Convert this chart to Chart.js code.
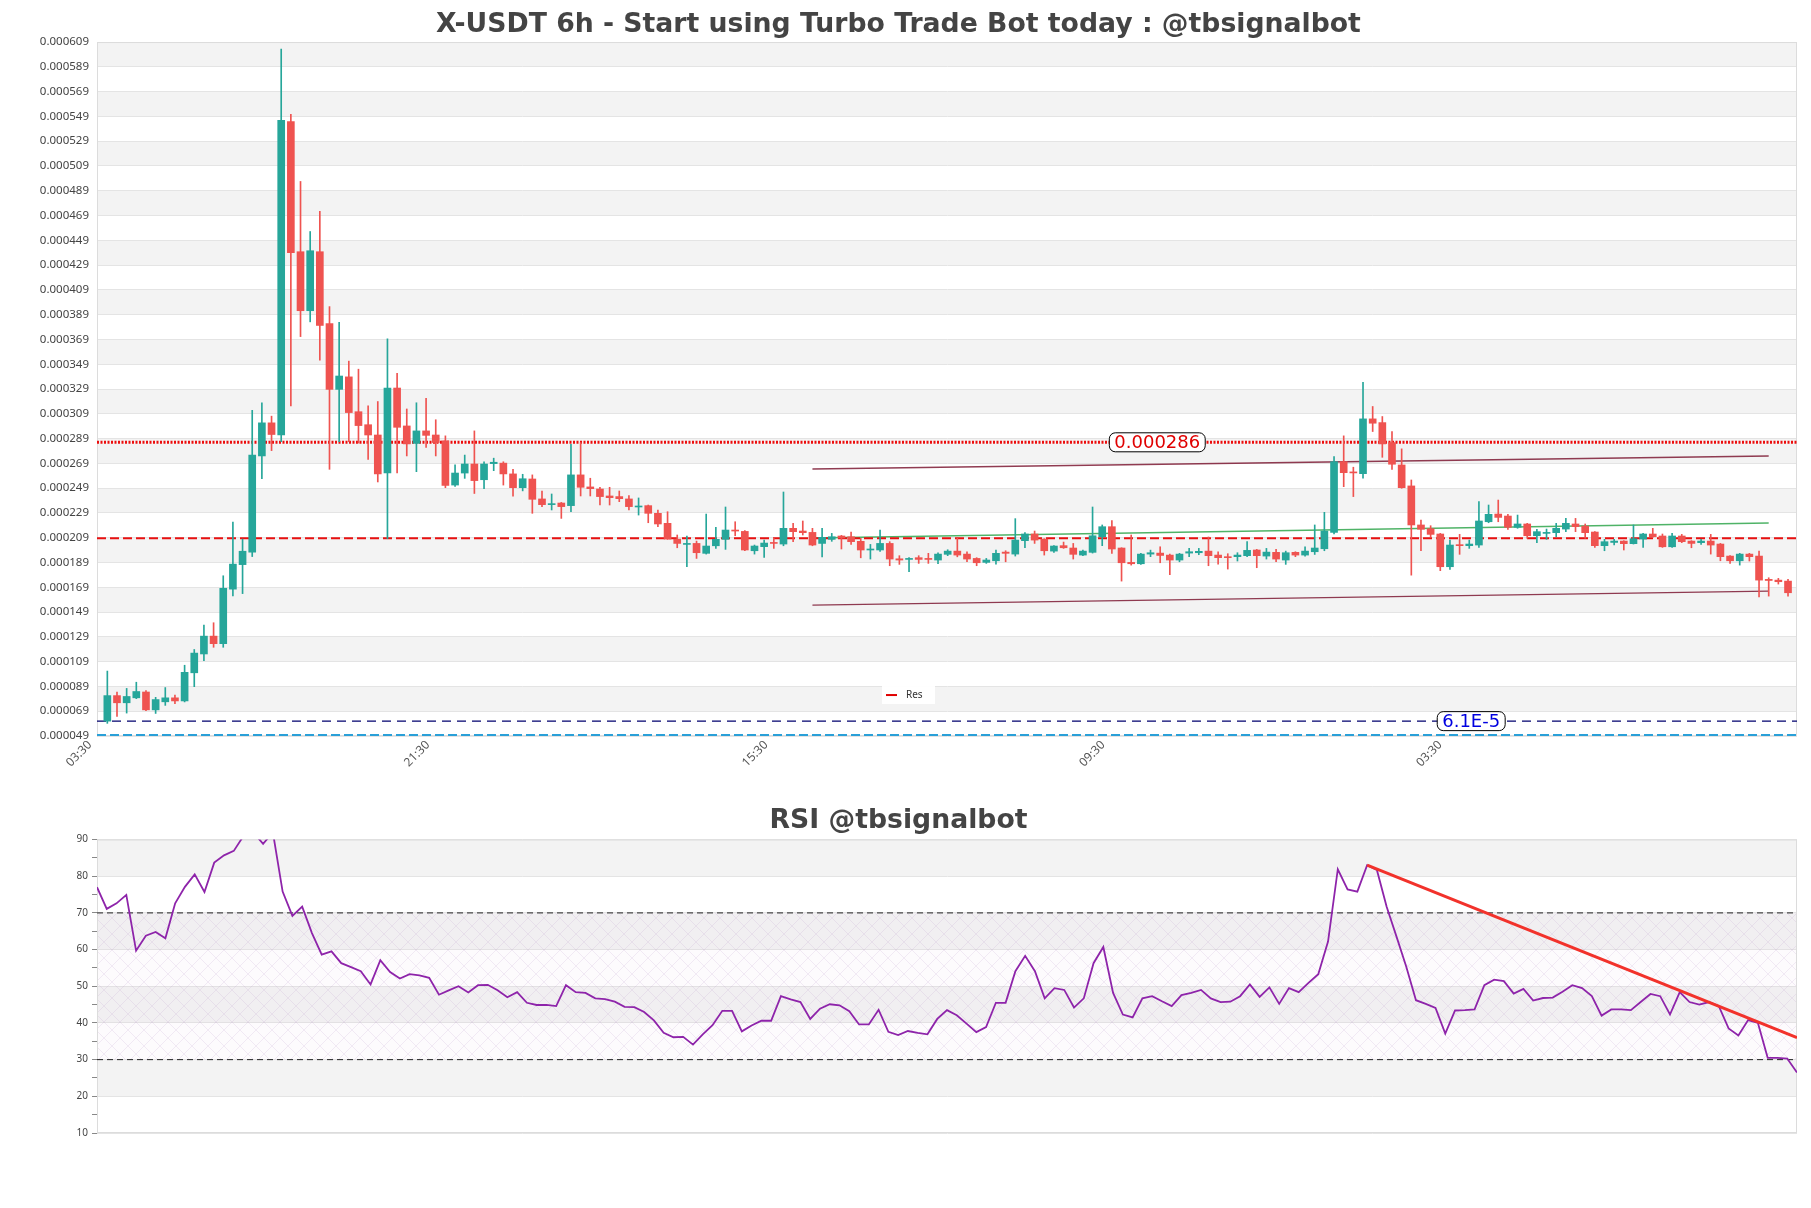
<!DOCTYPE html>
<html>
<head>
<meta charset="utf-8">
<title>X-USDT 6h</title>
<script src="https://cdn.jsdelivr.net/npm/chart.js@4.4.1/dist/chart.umd.min.js"></script>
<style>
  html, body { margin: 0; padding: 0; background: #fff; }
  #main { position: absolute; left: 0; top: 0; width: 1811px; height: 790px; }
  #rsi { position: absolute; left: 0; top: 790px; width: 1811px; height: 418px; }
</style>
</head>
<body>
<div id="main"><canvas id="priceChart"></canvas></div>
<div id="rsi"><canvas id="rsiChart"></canvas></div>
<script>
// candles
const openP = [61.0e-6,81.6e-6,75.8e-6,79.8e-6,84.5e-6,70.1e-6,76.6e-6,79.8e-6,77.3e-6,100.0e-6,
  115.2e-6,129.6e-6,123.5e-6,167.5e-6,187.3e-6,197.4e-6,275.0e-6,301.7e-6,292.0e-6,544.8e-6,
  439.8e-6,392.2e-6,439.8e-6,381.8e-6,328.7e-6,338.8e-6,310.7e-6,300.2e-6,291.9e-6,261.2e-6,
  329.8e-6,299.2e-6,285.1e-6,295.2e-6,291.9e-6,287.2e-6,251.5e-6,261.2e-6,268.5e-6,255.8e-6,
  268.8e-6,269.2e-6,260.5e-6,249.4e-6,256.4e-6,240.3e-6,235.7e-6,237.0e-6,234.9e-6,259.7e-6,
  250.0e-6,248.3e-6,242.7e-6,242.2e-6,240.3e-6,233.8e-6,234.9e-6,228.7e-6,220.6e-6,207.9e-6,
  203.6e-6,204.4e-6,196.4e-6,202.5e-6,207.7e-6,215.2e-6,214.1e-6,198.5e-6,201.8e-6,205.0e-6,
  203.9e-6,216.6e-6,214.4e-6,213.3e-6,204.4e-6,207.7e-6,210.4e-6,209.8e-6,206.1e-6,199.1e-6,
  199.1e-6,204.4e-6,192.0e-6,191.5e-6,192.9e-6,192.3e-6,191.0e-6,195.6e-6,198.2e-6,195.8e-6,
  192.3e-6,189.1e-6,190.4e-6,197.4e-6,195.8e-6,206.6e-6,212.0e-6,207.9e-6,198.2e-6,202.6e-6,
  200.7e-6,195.0e-6,197.2e-6,209.8e-6,217.9e-6,200.7e-6,189.1e-6,188.0e-6,195.8e-6,196.6e-6,
  195.0e-6,191.0e-6,196.6e-6,196.9e-6,198.2e-6,195.0e-6,193.4e-6,193.7e-6,194.5e-6,199.1e-6,
  194.2e-6,197.2e-6,191.0e-6,197.2e-6,195.0e-6,197.7e-6,200.1e-6,213.3e-6,270.4e-6,262.1e-6,
  260.7e-6,304.9e-6,301.9e-6,285.8e-6,267.7e-6,250.8e-6,219.3e-6,216.3e-6,212.0e-6,185.6e-6,
  203.1e-6,202.6e-6,203.1e-6,221.9e-6,228.1e-6,226.5e-6,217.4e-6,220.1e-6,210.6e-6,212.5e-6,
  213.1e-6,216.0e-6,220.1e-6,218.4e-6,213.6e-6,202.6e-6,205.2e-6,206.3e-6,204.2e-6,207.9e-6,
  212.0e-6,210.4e-6,201.7e-6,210.4e-6,206.3e-6,205.0e-6,206.3e-6,203.9e-6,194.2e-6,190.4e-6,
  195.8e-6,194.2e-6,175.4e-6,174.8e-6,174.0e-6];
const highP = [101.4e-6,84.5e-6,87.4e-6,92.4e-6,85.6e-6,80.2e-6,88.1e-6,82.0e-6,106.1e-6,118.8e-6,
  138.6e-6,140.4e-6,178.3e-6,221.6e-6,207.9e-6,311.8e-6,317.9e-6,307.1e-6,603.3e-6,550.6e-6,
  496.5e-6,456.1e-6,472.3e-6,395.5e-6,382.8e-6,351.5e-6,345.0e-6,315.4e-6,318.9e-6,369.5e-6,
  341.7e-6,312.9e-6,317.9e-6,321.5e-6,304.2e-6,291.2e-6,267.8e-6,275.7e-6,295.2e-6,270.3e-6,
  273.2e-6,270.3e-6,264.2e-6,260.2e-6,259.7e-6,246.7e-6,244.3e-6,237.5e-6,284.4e-6,285.8e-6,
  257.0e-6,249.7e-6,249.7e-6,246.7e-6,243.0e-6,241.1e-6,235.4e-6,231.4e-6,230.0e-6,211.2e-6,
  210.4e-6,206.3e-6,228.1e-6,217.4e-6,233.8e-6,221.9e-6,214.7e-6,203.1e-6,207.1e-6,208.7e-6,
  245.9e-6,220.6e-6,222.5e-6,216.6e-6,216.6e-6,212.5e-6,210.9e-6,213.6e-6,208.5e-6,203.6e-6,
  215.2e-6,205.8e-6,194.5e-6,192.9e-6,194.5e-6,196.4e-6,196.9e-6,199.3e-6,208.5e-6,197.7e-6,
  192.9e-6,192.3e-6,199.0e-6,198.5e-6,224.4e-6,213.1e-6,214.4e-6,208.2e-6,202.6e-6,205.5e-6,
  204.4e-6,199.0e-6,233.8e-6,219.3e-6,222.8e-6,200.9e-6,211.2e-6,196.4e-6,199.0e-6,201.7e-6,
  195.8e-6,196.4e-6,200.4e-6,200.4e-6,209.6e-6,197.7e-6,196.1e-6,196.9e-6,205.8e-6,199.6e-6,
  200.4e-6,199.6e-6,198.2e-6,197.7e-6,201.7e-6,219.3e-6,229.5e-6,274.5e-6,291.2e-6,265.9e-6,
  334.3e-6,314.9e-6,306.8e-6,294.7e-6,280.7e-6,255.6e-6,223.3e-6,218.7e-6,212.5e-6,207.1e-6,
  211.7e-6,207.1e-6,238.1e-6,235.4e-6,239.4e-6,227.9e-6,227.3e-6,220.6e-6,215.8e-6,216.0e-6,
  220.6e-6,224.6e-6,224.6e-6,220.1e-6,213.9e-6,207.7e-6,207.7e-6,206.6e-6,219.3e-6,212.5e-6,
  216.6e-6,212.0e-6,212.5e-6,211.7e-6,206.6e-6,207.7e-6,211.7e-6,204.4e-6,194.5e-6,196.4e-6,
  196.4e-6,198.2e-6,176.7e-6,176.2e-6,175.4e-6];
const lowP = [59.2e-6,64.7e-6,67.5e-6,79.1e-6,69.4e-6,67.2e-6,73.7e-6,75.1e-6,76.5e-6,88.8e-6,
  109.7e-6,120.6e-6,120.6e-6,162.1e-6,163.9e-6,193.8e-6,256.6e-6,279.3e-6,286.5e-6,315.4e-6,
  371.3e-6,383.2e-6,352.2e-6,264.2e-6,286.5e-6,286.5e-6,285.4e-6,272.1e-6,254.0e-6,208.2e-6,
  261.2e-6,275.0e-6,262.3e-6,281.8e-6,275.0e-6,249.4e-6,250.4e-6,256.9e-6,244.7e-6,248.6e-6,
  263.1e-6,251.5e-6,242.5e-6,246.8e-6,228.7e-6,234.1e-6,231.4e-6,224.6e-6,230.0e-6,242.7e-6,
  242.7e-6,235.4e-6,235.4e-6,238.1e-6,231.4e-6,227.3e-6,221.1e-6,217.9e-6,207.7e-6,200.9e-6,
  185.6e-6,192.3e-6,195.8e-6,200.4e-6,199.6e-6,210.6e-6,198.5e-6,195.8e-6,193.1e-6,200.4e-6,
  202.5e-6,205.8e-6,211.2e-6,202.5e-6,193.6e-6,206.1e-6,199.9e-6,203.6e-6,192.8e-6,191.8e-6,
  198.0e-6,186.4e-6,187.5e-6,181.6e-6,188.3e-6,188.3e-6,188.0e-6,194.5e-6,193.6e-6,189.6e-6,
  186.4e-6,188.3e-6,187.7e-6,189.6e-6,194.2e-6,200.9e-6,204.4e-6,195.0e-6,197.2e-6,200.4e-6,
  191.8e-6,194.5e-6,196.6e-6,202.6e-6,196.4e-6,174.0e-6,186.9e-6,187.5e-6,193.7e-6,188.8e-6,
  179.1e-6,189.6e-6,193.7e-6,195.3e-6,186.4e-6,187.7e-6,183.7e-6,190.2e-6,193.7e-6,184.8e-6,
  191.8e-6,189.6e-6,187.5e-6,193.7e-6,194.2e-6,195.5e-6,198.5e-6,212.0e-6,250.2e-6,242.2e-6,
  257.0e-6,294.7e-6,273.9e-6,264.2e-6,248.9e-6,178.8e-6,198.5e-6,209.8e-6,182.4e-6,183.4e-6,
  195.6e-6,200.4e-6,201.2e-6,221.1e-6,221.9e-6,215.8e-6,216.6e-6,208.5e-6,205.0e-6,207.7e-6,
  209.8e-6,213.9e-6,213.9e-6,208.5e-6,201.2e-6,198.5e-6,203.1e-6,199.1e-6,203.9e-6,201.2e-6,
  209.3e-6,201.2e-6,201.2e-6,205.0e-6,200.9e-6,203.6e-6,195.8e-6,190.4e-6,188.3e-6,186.9e-6,
  190.2e-6,161.3e-6,161.9e-6,171.6e-6,161.9e-6];
const closeP = [81.6e-6,75.8e-6,80.9e-6,84.9e-6,70.1e-6,78.4e-6,79.8e-6,77.3e-6,100.4e-6,115.9e-6,
  129.6e-6,123.5e-6,168.2e-6,187.7e-6,198.1e-6,275.7e-6,301.7e-6,292.3e-6,545.9e-6,439.1e-6,
  392.2e-6,440.6e-6,380.3e-6,328.7e-6,339.5e-6,310.0e-6,299.5e-6,291.9e-6,260.5e-6,329.8e-6,
  298.1e-6,284.7e-6,295.2e-6,291.6e-6,285.8e-6,251.2e-6,261.2e-6,268.5e-6,255.1e-6,268.5e-6,
  269.9e-6,260.5e-6,249.4e-6,256.6e-6,240.0e-6,235.7e-6,236.5e-6,234.1e-6,259.7e-6,249.7e-6,
  248.6e-6,242.2e-6,241.3e-6,240.5e-6,234.1e-6,234.6e-6,228.7e-6,220.1e-6,207.9e-6,204.4e-6,
  204.4e-6,196.9e-6,202.3e-6,207.7e-6,215.2e-6,214.4e-6,199.1e-6,202.3e-6,204.7e-6,204.4e-6,
  216.6e-6,213.9e-6,213.1e-6,203.1e-6,209.3e-6,209.8e-6,208.8e-6,205.8e-6,199.1e-6,199.9e-6,
  204.4e-6,191.8e-6,191.0e-6,192.3e-6,191.5e-6,191.5e-6,195.8e-6,198.2e-6,195.0e-6,191.8e-6,
  188.8e-6,191.0e-6,196.4e-6,196.4e-6,207.1e-6,212.0e-6,207.1e-6,198.5e-6,202.3e-6,200.9e-6,
  195.6e-6,198.2e-6,210.6e-6,217.9e-6,199.9e-6,188.8e-6,188.0e-6,195.8e-6,196.9e-6,194.7e-6,
  191.0e-6,195.8e-6,197.7e-6,198.0e-6,194.5e-6,192.9e-6,192.9e-6,195.0e-6,198.8e-6,194.5e-6,
  197.4e-6,191.8e-6,196.9e-6,195.0e-6,198.2e-6,200.7e-6,214.4e-6,270.4e-6,261.5e-6,261.3e-6,
  304.9e-6,301.4e-6,284.7e-6,268.3e-6,249.4e-6,219.3e-6,215.8e-6,211.7e-6,185.6e-6,203.1e-6,
  202.6e-6,203.9e-6,222.5e-6,227.9e-6,225.4e-6,217.4e-6,220.1e-6,210.6e-6,213.9e-6,213.3e-6,
  216.6e-6,220.6e-6,217.9e-6,213.1e-6,202.6e-6,205.8e-6,206.3e-6,204.2e-6,208.2e-6,212.0e-6,
  209.8e-6,201.7e-6,210.4e-6,205.8e-6,204.4e-6,206.3e-6,203.1e-6,193.7e-6,190.4e-6,195.8e-6,
  193.7e-6,174.8e-6,174.5e-6,173.5e-6,164.6e-6];

// RSI values, one per candle
const rsiValues = [77.0,71.1,72.6,74.9,59.7,63.8,64.8,63.1,72.6,77.1,80.5,75.7,83.7,85.7,86.9,91,92,88.8,92,75.8,
  69.2,71.7,64.5,58.6,59.5,56.3,55.2,54.1,50.5,57.1,53.9,52.1,53.3,53.0,52.3,47.7,48.9,50.0,48.3,50.3,
  50.4,48.9,47.0,48.4,45.5,44.9,44.9,44.6,50.3,48.4,48.2,46.7,46.5,45.8,44.4,44.3,43.0,40.7,37.3,36.1,
  36.2,34.1,36.9,39.4,43.3,43.3,37.7,39.3,40.6,40.6,47.3,46.4,45.7,41.1,43.9,45.1,44.8,43.2,39.6,39.6,
  43.6,37.6,36.7,37.8,37.3,36.9,41.1,43.5,42.1,39.8,37.5,38.9,45.5,45.5,54.1,58.3,54.1,46.7,49.5,49.0,
  44.2,46.7,56.3,60.7,48.2,42.3,41.5,46.7,47.3,45.9,44.6,47.6,48.2,49.0,46.7,45.7,45.8,47.3,50.5,47.1,
  49.7,45.2,49.5,48.4,50.9,53.3,62.2,81.9,76.4,75.8,83.0,81.7,71.7,63.6,55.4,46.2,45.2,44.1,37.1,43.4,
  43.5,43.7,50.3,51.8,51.4,48.0,49.3,46.1,46.8,46.9,48.5,50.3,49.5,47.3,42.0,43.7,43.7,43.5,45.7,47.9,
  47.3,42.3,48.4,45.7,45.0,45.7,44.6,38.5,36.6,40.8,40.0,30.5,30.5,30.3,26.5];

// x axis ticks (candle index) and their labels
const xTickPos = [-1.8, 33.2, 68.2, 103.1, 138.0];
const xTickLabels = ['03:30', '21:30', '15:30', '09:30', '03:30'];

// horizontal levels
const resLevel = 286e-6;       // dotted, tagged
const resDashLevel = 208.5e-6; // "Res"
const supLevel = 61e-6;        // tagged 6.1E-5
const baseLevel = 49.5e-6;

// channel (candle index -> price)
const channelX = [73, 172];
const channelUpper = [264.5e-6, 275.0e-6];
const channelMid = [208.8e-6, 220.9e-6];
const channelLower = [154.6e-6, 165.9e-6];

// rsi trend line
const rsiTrendX = [130, 174];
const rsiTrendY = [83, 36];
const rsiUpper = 70, rsiLower = 30;

const tagTexts = ['0.000286', '6.1E-5'];
const tagValues = [resLevel, supLevel];

const UP = '#26a69a', DOWN = '#ef5350';
const X_MIN = -1.07, X_MAX = 174.93;

const candleColors = openP.map((o, i) => closeP[i] >= o ? UP : DOWN);
const pts = (xs, ys) => xs.map((x, i) => ({ x: x, y: ys[i] }));
const hLine = v => [{ x: X_MIN, y: v }, { x: X_MAX, y: v }];

const bandsPlugin = {
  id: 'bands',
  beforeDraw(chart, args, opts) {
    const { ctx, chartArea: a } = chart;
    const y = chart.scales.y;
    ctx.save();
    let k = 0;
    for (let v = y.max; v > y.min + opts.step / 2; v -= opts.step, k++) {
      if (k % 2 === 0) {
        const top = y.getPixelForValue(v);
        const bot = y.getPixelForValue(v - opts.step);
        ctx.fillStyle = '#f3f3f3';
        ctx.fillRect(a.left, top, a.width, bot - top);
      }
    }
    ctx.restore();
  },
  beforeDatasetsDraw(chart, args, opts) {
    const { ctx, chartArea: a } = chart;
    ctx.save();
    if (opts.hatch) {
      const y = chart.scales.y;
      const t = y.getPixelForValue(opts.hatch[0]);
      const b = y.getPixelForValue(opts.hatch[1]);
      const pc = document.createElement('canvas');
      pc.width = 16; pc.height = 16;
      const p = pc.getContext('2d');
      p.strokeStyle = 'rgba(175,140,195,0.22)';
      p.lineWidth = 0.7;
      p.beginPath();
      p.moveTo(0, 0); p.lineTo(16, 16);
      p.moveTo(16, 0); p.lineTo(0, 16);
      p.stroke();
      ctx.fillStyle = 'rgba(210,170,225,0.05)';
      ctx.fillRect(a.left, t, a.width, b - t);
      ctx.fillStyle = ctx.createPattern(pc, 'repeat');
      ctx.fillRect(a.left, t, a.width, b - t);
    }
    ctx.strokeStyle = '#dcdcdc';
    ctx.lineWidth = 1;
    ctx.strokeRect(a.left + 0.5, a.top + 0.5, a.width - 1, a.height - 1);
    ctx.restore();
  }
};

const tagsPlugin = {
  id: 'tags',
  afterDatasetsDraw(chart, args, opts) {
    const { ctx, chartArea: a } = chart;
    const xs = chart.scales.x, ys = chart.scales.y;
    ctx.save();
    ctx.font = '18px "DejaVu Sans"';
    ctx.textAlign = 'center';
    ctx.textBaseline = 'middle';
    tagTexts.forEach((txt, i) => {
      const cx = xs.getPixelForValue(opts.at[i]);
      const cy = ys.getPixelForValue(tagValues[i]);
      const w = ctx.measureText(txt).width + 10, h = 19;
      ctx.beginPath();
      ctx.roundRect(cx - w / 2, cy - h / 2, w, h, 6);
      ctx.fillStyle = '#fff';
      ctx.fill();
      ctx.strokeStyle = '#000';
      ctx.lineWidth = 1;
      ctx.stroke();
      ctx.fillStyle = opts.colors[i];
      ctx.fillText(txt, cx, cy + 1);
    });
    // small legend box inside the plot
    const lx = a.left + opts.legend.x, ly = a.top + opts.legend.y;
    ctx.fillStyle = '#fff';
    ctx.fillRect(lx, ly, 53, 18);
    ctx.strokeStyle = '#e00000';
    ctx.lineWidth = 2;
    ctx.beginPath();
    ctx.moveTo(lx + 4, ly + 9); ctx.lineTo(lx + 15, ly + 9);
    ctx.stroke();
    ctx.fillStyle = '#333';
    ctx.font = '10px "Noto Sans"';
    ctx.textAlign = 'left';
    ctx.fillText('Res', lx + 24, ly + 9);
    ctx.restore();
  }
};

const lineDs = (label, data, color, width, dash, order) => ({
  type: 'line', label: label, data: data, borderColor: color, borderWidth: width,
  borderDash: dash, pointRadius: 0, fill: false, order: order
});

new Chart(document.getElementById('priceChart'), {
  type: 'bar',
  data: {
    datasets: [
      lineDs('Level', hLine(resLevel), 'rgba(235,0,0,0.95)', 3, [2, 1.5], 3),
      lineDs('Res', hLine(resDashLevel), '#e81010', 2, [9, 4], 3),
      lineDs('Sup', hLine(supLevel), '#00006e', 1.3, [9, 6], 3),
      lineDs('Base', hLine(baseLevel), '#2aa0d8', 3, [9, 4], 3),
      lineDs('Upper', pts(channelX, channelUpper), 'rgba(125,25,50,0.85)', 1.4, [], 3),
      lineDs('Lower', pts(channelX, channelLower), 'rgba(125,25,50,0.85)', 1.4, [], 3),
      lineDs('Mid', pts(channelX, channelMid), 'rgba(70,175,95,0.95)', 1.4, [], 3),
      {
        label: 'Wick',
        data: lowP.map((l, i) => ({ x: i, y: [l, highP[i]] })),
        backgroundColor: candleColors,
        barThickness: 1,
        grouped: false,
        order: 2
      },
      {
        label: 'Body',
        data: openP.map((o, i) => ({ x: i, y: [o, closeP[i]] })),
        backgroundColor: candleColors,
        barThickness: 7,
        minBarLength: 1,
        grouped: false,
        order: 1
      }
    ]
  },
  options: {
    responsive: true,
    maintainAspectRatio: false,
    animation: false,
    layout: { padding: { left: 0, right: 14, top: 0, bottom: 0 } },
    plugins: {
      legend: { display: false },
      tooltip: { enabled: false },
      title: {
        display: true,
        text: 'X-USDT 6h - Start using Turbo Trade Bot today : @tbsignalbot',
        color: '#444',
        font: { family: 'DejaVu Sans', size: 26.7, weight: 'bold' },
        padding: { top: 9.5, bottom: 0.5 }
      },
      bands: { step: 0.00002 },
      tags: { at: [108.7, 141.2], colors: ['#e00000', '#0000e0'], legend: { x: 785, y: 644 } }
    },
    scales: {
      x: {
        type: 'linear',
        offset: false,
        min: X_MIN,
        max: X_MAX,
        grid: { display: false, offset: false, drawTicks: false },
        border: { display: false },
        afterBuildTicks: s => { s.ticks = xTickPos.map(v => ({ value: v })); },
        afterFit: s => { s.height = 54; },
        ticks: {
          autoSkip: false,
          minRotation: 45,
          maxRotation: 45,
          padding: 2,
          color: '#555',
          font: { family: 'Noto Sans', size: 12 },
          callback: (v, i) => xTickLabels[i]
        }
      },
      y: {
        min: 0.000049,
        max: 0.000609,
        afterFit: s => { s.width = 97; },
        ticks: {
          stepSize: 0.00002,
          color: '#444',
          padding: 8,
          font: { family: 'Noto Sans', size: 11.5 },
          callback: v => v.toFixed(6)
        },
        grid: { color: '#e4e4e4', drawTicks: false },
        border: { color: '#dcdcdc' }
      }
    }
  },
  plugins: [bandsPlugin, tagsPlugin]
});

new Chart(document.getElementById('rsiChart'), {
  type: 'line',
  data: {
    datasets: [
      lineDs('Trend', pts(rsiTrendX, rsiTrendY), '#f2322b', 3, [], 1),
      {
        label: 'RSI',
        data: rsiValues.map((v, i) => ({ x: i, y: v })),
        borderColor: 'rgb(142,36,170)',
        borderWidth: 1.8,
        pointRadius: 0,
        fill: false,
        order: 2
      },
      lineDs('70', [{ x: 0, y: rsiUpper }, { x: rsiValues.length - 1, y: rsiUpper }], '#222', 1, [6, 4], 3),
      lineDs('30', [{ x: 0, y: rsiLower }, { x: rsiValues.length - 1, y: rsiLower }], '#222', 1, [6, 4], 3)
    ]
  },
  options: {
    responsive: true,
    maintainAspectRatio: false,
    animation: false,
    layout: { padding: { left: 0, right: 14, top: 0, bottom: 75 } },
    plugins: {
      legend: { display: false },
      tooltip: { enabled: false },
      title: {
        display: true,
        text: 'RSI @tbsignalbot',
        color: '#444',
        font: { family: 'DejaVu Sans', size: 26.7, weight: 'bold' },
        padding: { top: 15.5, bottom: 2 }
      },
      bands: { step: 10, hatch: [rsiUpper, rsiLower] }
    },
    scales: {
      x: { type: 'linear', display: false, min: 0, max: rsiValues.length - 1 },
      y: {
        min: 10,
        max: 90,
        afterFit: s => { s.width = 97; },
        ticks: {
          stepSize: 5,
          color: '#444',
          padding: 4,
          font: { family: 'Noto Sans', size: 10 },
          callback: v => (v % 10 === 0 ? String(v) : '')
        },
        grid: {
          color: ctx => (ctx.tick && ctx.tick.value % 10 === 0 ? '#e4e4e4' : 'rgba(0,0,0,0)'),
          tickColor: '#888',
          tickLength: 5
        },
        border: { color: '#dcdcdc' }
      }
    }
  },
  plugins: [bandsPlugin]
});
</script>
</body>
</html>
